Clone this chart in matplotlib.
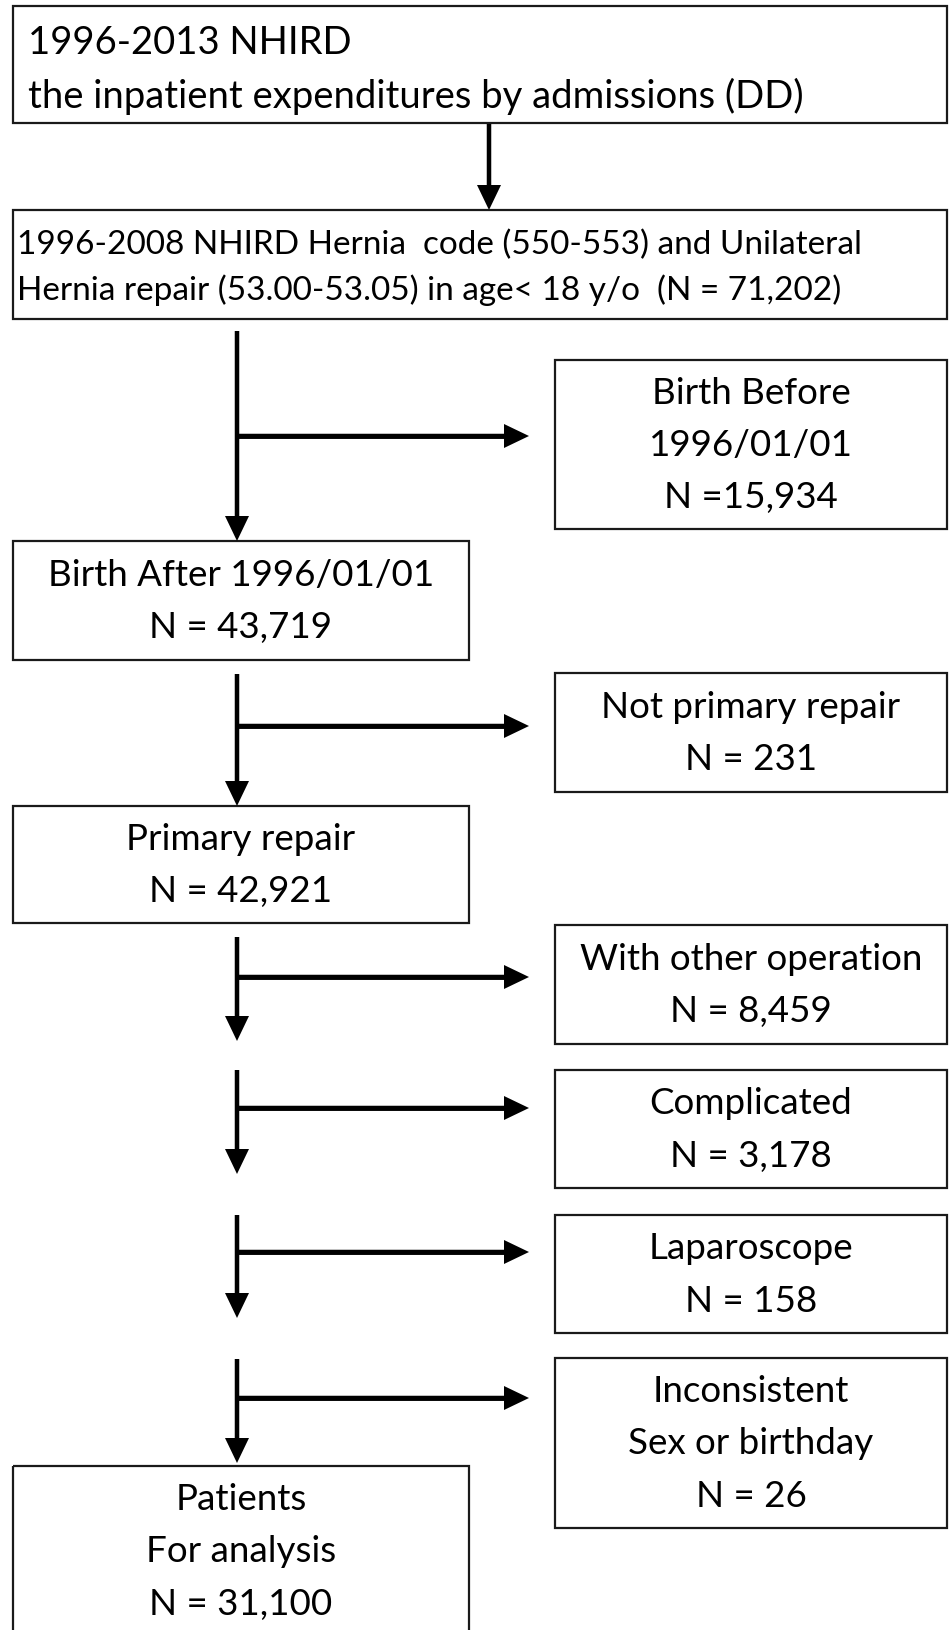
import matplotlib
matplotlib.use('Agg')
import matplotlib.pyplot as plt
from matplotlib.patches import Rectangle

plt.rcParams['font.family'] = ['Lato', 'DejaVu Sans']

# data
source_lines = ["1996-2013 NHIRD", "the inpatient expenditures by admissions (DD)"]
cohort_lines = ["1996-2008 NHIRD Hernia  code (550-553) and Unilateral",
                "Hernia repair (53.00-53.05) in age< 18 y/o  (N = 71,202)"]
main_labels = ["Birth After 1996/01/01", "Primary repair", "Patients\nFor analysis"]
main_n = [43719, 42921, 31100]
excl_labels = ["Birth Before\n1996/01/01", "Not primary repair", "With other operation",
               "Complicated", "Laparoscope", "Inconsistent\nSex or birthday"]
excl_n = [15934, 231, 8459, 3178, 158, 26]
excl_prefix = ["N =", "N = ", "N = ", "N = ", "N = ", "N = "]

W, H = 949, 1631
fig = plt.figure(figsize=(W / 100, H / 100), dpi=100)
ax = fig.add_axes([0, 0, 1, 1])
ax.set_xlim(0, W)
ax.set_ylim(H, 0)
ax.axis('off')

edge = '#1a1a1a'
FS = 26.5
LS = 1.72


def box(x0, y0, x1, y1):
    ax.add_patch(Rectangle((x0, y0), x1 - x0, y1 - y0, fill=False, ec=edge, lw=1.6))


def arrow(x0, y0, x1, y1):
    ax.arrow(x0, y0, x1 - x0, y1 - y0, width=4.5, head_width=24, head_length=25,
             length_includes_head=True, fc='black', ec='black', lw=0)


# top two boxes
box(13, 7, 947, 124)
for txt, yc in zip(source_lines, [43, 96]):
    ax.text(28, yc, txt, fontsize=27.5, ha='left', va='center')
arrow(489, 125, 489, 211)

box(13, 211, 947, 320)
for txt, yc in zip(cohort_lines, [245, 290]):
    ax.text(17, yc, txt, fontsize=24, ha='left', va='center')

# main column
main_boxes = [(542, 661), (807, 924), (1467, 1640)]
main_cx = 241
for lab, n, (y0, y1) in zip(main_labels, main_n, main_boxes):
    box(13, y0, 469, y1)
    ax.text(main_cx, y0 + (min(y1, H) - y0) / 2 + (3 if '\n' in lab else 0),
            f"{lab}\nN = {n:,}", fontsize=FS, ha='center', va='center', linespacing=LS)

# exclusion boxes and branches
excl_boxes = [(361, 530), (674, 793), (926, 1045), (1071, 1189), (1216, 1334), (1359, 1529)]
branch_y = [437, 727, 978, 1109, 1253, 1399]
stem = [(332, 542), (675, 807), (938, 1042), (1071, 1175), (1216, 1319), (1360, 1464)]
for lab, n, pre, (y0, y1), yb, (s0, s1) in zip(excl_labels, excl_n, excl_prefix,
                                               excl_boxes, branch_y, stem):
    box(555, y0, 947, y1)
    ax.text(751, (y0 + y1) / 2, f"{lab}\n{pre}{n:,}", fontsize=FS, ha='center',
            va='center', linespacing=LS)
    arrow(237, s0, 237, s1)
    ax.plot([237, 510], [yb, yb], color='black', lw=3.5, solid_capstyle='butt')
    arrow(237, yb, 529, yb)

fig.savefig('out.png', dpi=100)
